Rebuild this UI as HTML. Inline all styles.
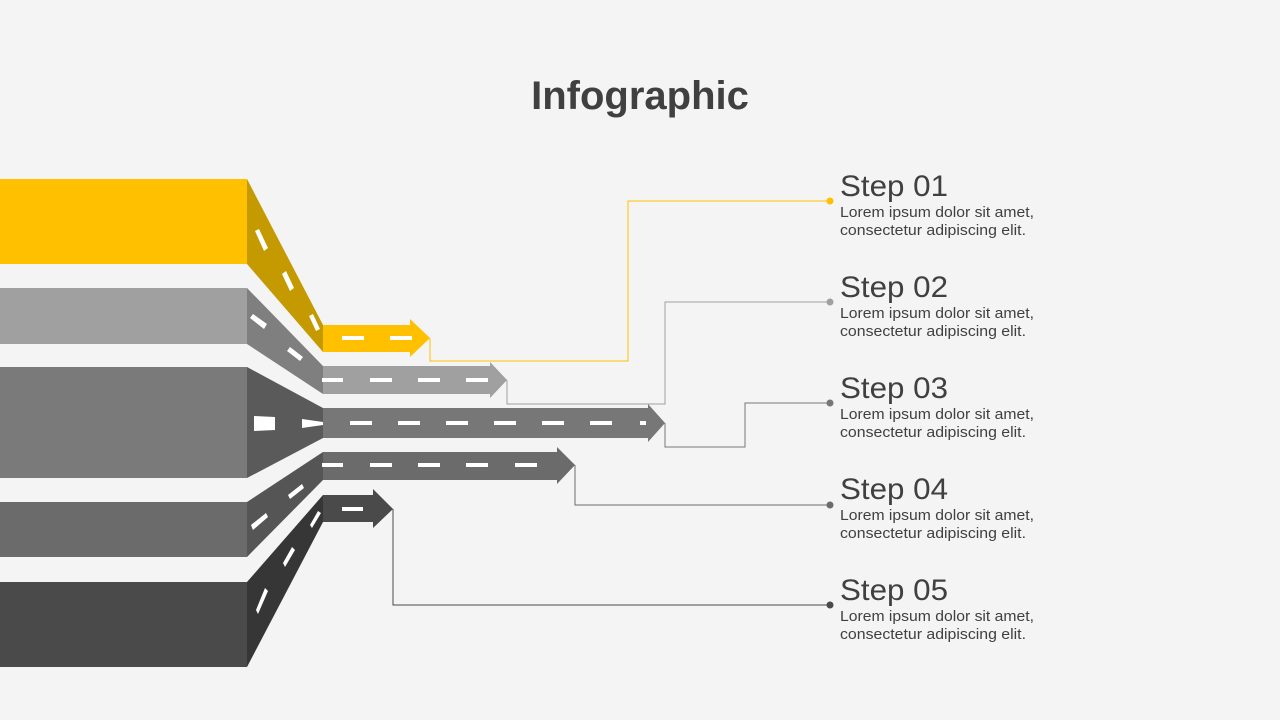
<!DOCTYPE html>
<html><head><meta charset="utf-8"><style>
html,body{margin:0;padding:0;background:#f4f4f4;}
svg{display:block;}
text{font-family:"Liberation Sans",sans-serif;fill:#404040;}
</style></head><body>
<svg width="1280" height="720" viewBox="0 0 1280 720">
<rect width="1280" height="720" fill="#f4f4f4"/>
<text x="640" y="109" text-anchor="middle" font-size="40" font-weight="bold">Infographic</text>

<rect x="0" y="179" width="247" height="85" fill="#FFC000"/>
<polygon points="247,179 323,325 323,352 247,264" fill="#C49A00"/>
<rect x="0" y="288" width="247" height="56" fill="#A0A0A0"/>
<polygon points="247,288 323,366 323,394 247,344" fill="#7f7f7f"/>
<rect x="0" y="367" width="247" height="111" fill="#7a7a7a"/>
<polygon points="247,367 323,408 323,438 247,478" fill="#5a5a5a"/>
<rect x="0" y="502" width="247" height="55" fill="#6b6b6b"/>
<polygon points="247,502 323,452 323,480 247,557" fill="#555555"/>
<rect x="0" y="582" width="247" height="85" fill="#4a4a4a"/>
<polygon points="247,582 323,495 323,522 247,667" fill="#363636"/>

<g fill="#fff">
<polygon points="255,231 259,229 268,248 264,251"/>
<polygon points="282,274 286,271 294,288 290,291"/>
<polygon points="309,316 313,314 320,329 316,331"/>
<polygon points="250,318 253,314 267,324 264,329"/>
<polygon points="287,351 290,347 303,357 300,361"/>
<polygon points="254,416 275,417 275,430 254,431"/>
<polygon points="302,419 323,422 323,425 302,428"/>
<polygon points="251,525 266,513 268,517 253,530"/>
<polygon points="288,495 302,484 304,488 290,499"/>
<polygon points="256,610 265,588 268,591 258,614"/>
<polygon points="283,563 292,547 295,550 285,567"/>
<polygon points="310,525 318,511 321,513 312,528"/>
</g>

<polygon points="323,325 410,325 410,319 430,338 410,357 410,352 323,352" fill="#FFC000"/>
<polygon points="323,366 490,366 490,362 507,380 490,398 490,394 323,394" fill="#A0A0A0"/>
<polygon points="323,408 648,408 648,404 665,423 648,442 648,438 323,438" fill="#777777"/>
<polygon points="323,452 557,452 557,447 575,465 557,484 557,480 323,480" fill="#6b6b6b"/>
<polygon points="323,495 373,495 373,489 393,509 373,528 373,522 323,522" fill="#4a4a4a"/>

<g fill="#fff">
<rect x="342" y="336" width="22" height="4"/><rect x="390" y="336" width="22" height="4"/>
<rect x="322" y="378" width="21" height="4"/><rect x="370" y="378" width="22" height="4"/><rect x="418" y="378" width="22" height="4"/><rect x="466" y="378" width="22" height="4"/>
<rect x="350" y="421" width="22" height="4"/><rect x="398" y="421" width="22" height="4"/><rect x="446" y="421" width="22" height="4"/><rect x="494" y="421" width="22" height="4"/><rect x="542" y="421" width="22" height="4"/><rect x="590" y="421" width="22" height="4"/><rect x="640" y="421" width="6" height="4"/>
<rect x="322" y="463" width="21" height="4"/><rect x="370" y="463" width="22" height="4"/><rect x="418" y="463" width="22" height="4"/><rect x="466" y="463" width="22" height="4"/><rect x="515" y="463" width="22" height="4"/>
<rect x="342" y="507" width="21" height="4"/>
</g>

<g fill="none" stroke-width="1">
<polyline points="430,338 430,361 628,361 628,201 830,201" stroke="#FFC000"/>
<polyline points="507,380 507,404 665,404 665,302 830,302" stroke="#a0a0a0"/>
<polyline points="665,423 665,447 745,447 745,403 830,403" stroke="#777"/>
<polyline points="575,465 575,505 830,505" stroke="#6b6b6b"/>
<polyline points="393,509 393,605 830,605" stroke="#4a4a4a"/>
</g>
<circle cx="830" cy="201" r="3.5" fill="#FFC000"/>
<circle cx="830" cy="302" r="3.5" fill="#a0a0a0"/>
<circle cx="830" cy="403" r="3.5" fill="#777"/>
<circle cx="830" cy="505" r="3.5" fill="#6b6b6b"/>
<circle cx="830" cy="605" r="3.5" fill="#4a4a4a"/>

<g>
<text x="840" y="196" font-size="30" textLength="108" lengthAdjust="spacingAndGlyphs">Step 01</text>
<text x="840" y="217" font-size="15" textLength="194" lengthAdjust="spacingAndGlyphs">Lorem ipsum dolor sit amet,</text>
<text x="840" y="235" font-size="15" textLength="186" lengthAdjust="spacingAndGlyphs">consectetur adipiscing elit.</text>
<text x="840" y="297" font-size="30" textLength="108" lengthAdjust="spacingAndGlyphs">Step 02</text>
<text x="840" y="318" font-size="15" textLength="194" lengthAdjust="spacingAndGlyphs">Lorem ipsum dolor sit amet,</text>
<text x="840" y="336" font-size="15" textLength="186" lengthAdjust="spacingAndGlyphs">consectetur adipiscing elit.</text>
<text x="840" y="398" font-size="30" textLength="108" lengthAdjust="spacingAndGlyphs">Step 03</text>
<text x="840" y="419" font-size="15" textLength="194" lengthAdjust="spacingAndGlyphs">Lorem ipsum dolor sit amet,</text>
<text x="840" y="437" font-size="15" textLength="186" lengthAdjust="spacingAndGlyphs">consectetur adipiscing elit.</text>
<text x="840" y="499" font-size="30" textLength="108" lengthAdjust="spacingAndGlyphs">Step 04</text>
<text x="840" y="520" font-size="15" textLength="194" lengthAdjust="spacingAndGlyphs">Lorem ipsum dolor sit amet,</text>
<text x="840" y="538" font-size="15" textLength="186" lengthAdjust="spacingAndGlyphs">consectetur adipiscing elit.</text>
<text x="840" y="600" font-size="30" textLength="108" lengthAdjust="spacingAndGlyphs">Step 05</text>
<text x="840" y="621" font-size="15" textLength="194" lengthAdjust="spacingAndGlyphs">Lorem ipsum dolor sit amet,</text>
<text x="840" y="639" font-size="15" textLength="186" lengthAdjust="spacingAndGlyphs">consectetur adipiscing elit.</text>
</g>
</svg>
</body></html>
